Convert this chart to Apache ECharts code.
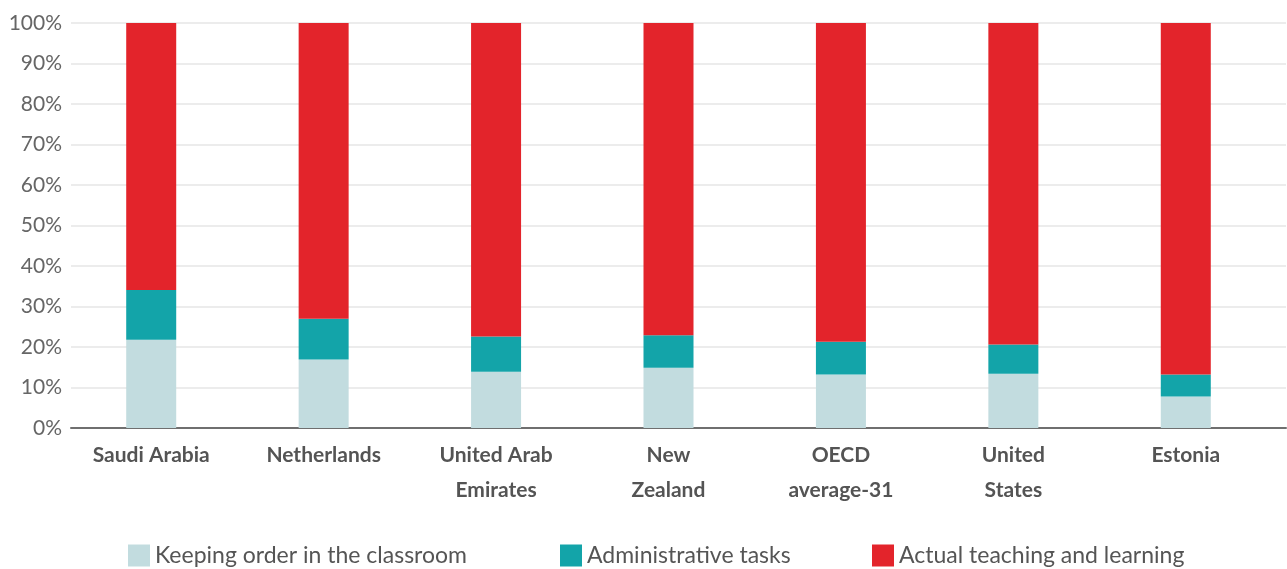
<!DOCTYPE html>
<html>
<head>
<meta charset="utf-8">
<script src="https://cdn.jsdelivr.net/npm/echarts@6/dist/echarts.min.js"></script>
<style>
  html, body { margin: 0; padding: 0; background: #ffffff; }
  #chart { width: 1287px; height: 569px; }
</style>
</head>
<body>
<div id="chart"></div>
<script>
// Share of classroom time, by country (percent of lesson time)
const categories = [
  'Saudi Arabia', 'Netherlands', 'United Arab\nEmirates', 'New\nZealand',
  'OECD\naverage-31', 'United\nStates', 'Estonia'
];
const keepingOrder = [21.8, 16.9, 13.9, 14.9, 13.2, 13.4, 7.8];
const adminTasks   = [12.3, 10.1, 8.7, 8.0, 8.1, 7.2, 5.4];
const teaching     = [65.9, 73.0, 77.4, 77.1, 78.7, 79.4, 86.8];
const seriesNames = ['Keeping order in the classroom', 'Administrative tasks', 'Actual teaching and learning'];
const seriesColors = ['#c2dcdf', '#13a4a9', '#e3242b'];
const yTicks = { min: 0, max: 100, interval: 10 };

const chart = echarts.init(document.getElementById('chart'));

const font = 'Lato, "Open Sans", sans-serif';
const legendLeft = [123, 555, 867];

chart.setOption({
  animation: false,
  grid: [
    // bars
    { left: 65, right: 15, top: 23, height: 405 },
    // percentage scale, gridlines and baseline
    { left: 71, right: 1, top: 23, height: 405 }
  ],
  legend: seriesNames.map((name, i) => ({
    left: legendLeft[i],
    bottom: -3,
    itemWidth: 22,
    itemHeight: 22,
    itemGap: 8,
    icon: 'rect',
    textStyle: { fontFamily: font, fontSize: 23, color: '#555555' },
    data: [name]
  })),
  xAxis: [
    {
      type: 'category',
      gridIndex: 0,
      data: categories,
      axisLine: { show: false },
      axisTick: { show: false },
      axisLabel: {
        margin: 10,
        fontFamily: font,
        fontWeight: 'bold',
        fontSize: 21,
        lineHeight: 35,
        color: '#545454',
        interval: 0
      }
    },
    {
      type: 'value',
      gridIndex: 1,
      min: 0,
      max: 1,
      axisLine: { show: true, lineStyle: { color: '#6f6f6f', width: 2 } },
      axisTick: { show: false },
      axisLabel: { show: false },
      splitLine: { show: false }
    }
  ],
  yAxis: [
    {
      type: 'value',
      gridIndex: 0,
      min: yTicks.min,
      max: yTicks.max,
      interval: yTicks.interval,
      show: false
    },
    {
      type: 'value',
      gridIndex: 1,
      min: yTicks.min,
      max: yTicks.max,
      interval: yTicks.interval,
      axisLine: { show: false },
      axisTick: { show: false },
      axisLabel: {
        margin: 9,
        formatter: '{value}%',
        fontFamily: font,
        fontSize: 21,
        color: '#666666'
      },
      splitLine: { show: true, lineStyle: { color: '#e6e6e6', width: 1.5 } }
    }
  ],
  series: [
    { name: seriesNames[0], data: keepingOrder, color: seriesColors[0] },
    { name: seriesNames[1], data: adminTasks, color: seriesColors[1] },
    { name: seriesNames[2], data: teaching, color: seriesColors[2] }
  ].map(s => ({
    type: 'bar',
    stack: 'time',
    xAxisIndex: 0,
    yAxisIndex: 0,
    barWidth: 50,
    name: s.name,
    data: s.data,
    itemStyle: { color: s.color }
  }))
});
</script>
</body>
</html>
